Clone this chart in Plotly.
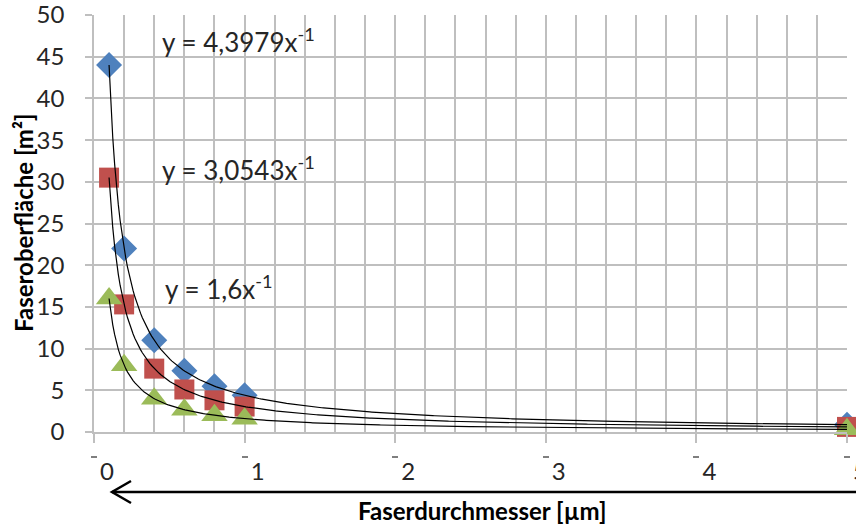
import numpy as np
import plotly.graph_objects as go

# Data
x_vals = [0.1, 0.2, 0.4, 0.6, 0.8, 1.0, 5.0]
blue_vals = [44.0, 22.0, 11.0, 7.33, 5.5, 4.4, 0.88]
red_vals = [30.5, 15.3, 7.6, 5.1, 3.8, 3.05, 0.61]
green_vals = [16.0, 8.0, 4.0, 2.67, 2.0, 1.6, 0.32]
x_ticks = [0, 1, 2, 3, 4, 5]
y_ticks = [0, 5, 10, 15, 20, 25, 30, 35, 40, 45, 50]
eq_labels = ["y = 4,3979x<sup>-1</sup>", "y = 3,0543x<sup>-1</sup>", "y = 1,6x<sup>-1</sup>"]

W, H = 856, 526
ML, MR, MT, MB = 94, 9, 15, 0
PW, PH = W - ML - MR, H - MT - MB
def px(xp):
    return (xp - ML) / PW
def py(yp):
    return (H - yp) / PH

FONT = "Lato"
fig = go.Figure()

series = [
    (blue_vals, "#4F81BD", "diamond", 20),
    (red_vals, "#C0504D", "square", 20),
    (green_vals, "#9BBB59", "triangle-up", 23),
]
for vals, col, sym, size in series:
    fig.add_trace(go.Scatter(x=x_vals, y=vals, mode="markers",
                             marker=dict(color=col, symbol=sym, size=size, line=dict(width=0)),
                             cliponaxis=False, showlegend=False))

# power trendlines fitted from the data (like Excel)
xs = np.array(x_vals)
xc = np.linspace(min(x_vals), max(x_vals), 400)
for vals, *_ in series:
    b, loga = np.polyfit(np.log(xs), np.log(np.array(vals)), 1)
    fig.add_trace(go.Scatter(x=xc, y=np.exp(loga) * xc ** b, mode="lines",
                             line=dict(color="black", width=1.2), showlegend=False,
                             hoverinfo="skip"))

# invisible trace for secondary x axis (tick dashes)
fig.add_trace(go.Scatter(x=[0, 5], y=[0, 0], xaxis="x2", mode="markers",
                         marker=dict(opacity=0), showlegend=False, hoverinfo="skip"))

grid = "#BFBFBF"
fig.update_layout(
    width=W, height=H,
    margin=dict(l=ML, r=MR, t=MT, b=MB),
    paper_bgcolor="white", plot_bgcolor="white",
    font=dict(family=FONT, color="#262626"),
    xaxis=dict(range=[0, 5], tickvals=x_ticks, ticks="outside", ticklen=9, tickcolor=grid,
               tickwidth=1.5, showgrid=True, gridcolor=grid, gridwidth=1.5,
               minor=dict(dtick=0.2, showgrid=True, gridcolor=grid, gridwidth=1.5),
               showline=True, linecolor=grid, linewidth=1.5,
               tickfont=dict(size=24, family=FONT, color="#262626"),
               ticklabelstandoff=8, ticklabelshift=13, ticklabeloverflow="allow",
               zeroline=False, automargin=False,
               anchor="y", fixedrange=True),
    xaxis2=dict(overlaying="x", anchor="free", position=py(455), side="bottom",
                range=[0, 5], tickvals=x_ticks, ticks="outside", ticklen=2, tickwidth=6,
                tickcolor="#7F7F7F", showticklabels=False, showgrid=False,
                showline=False, zeroline=False, automargin=False),
    yaxis=dict(domain=[py(432), 1], range=[0, 50], tickvals=y_ticks,
               ticks="outside", ticklen=7, tickcolor=grid, tickwidth=1.5,
               showgrid=True, gridcolor=grid, gridwidth=1.5,
               showline=True, linecolor=grid, linewidth=1.5, zeroline=False,
               tickfont=dict(size=24, family=FONT, color="#262626"),
               ticklabelstandoff=16, ticklabeloverflow="allow", automargin=False),
)

# y axis title
fig.add_annotation(x=px(23), y=py(223), xref="paper", yref="paper",
                   text="<b>Faseroberfläche [m²]</b>", showarrow=False, textangle=-90,
                   xanchor="center", yanchor="middle",
                   font=dict(size=24, family=FONT, color="black"))

eq_pos = [(0.44, 46.9), (0.44, 31.6), (0.46, 17.3)]
for (ex, ey), txt in zip(eq_pos, eq_labels):
    fig.add_annotation(x=ex, y=ey, xref="x", yref="y", text=txt, showarrow=False,
                       xanchor="left", yanchor="middle",
                       font=dict(size=26, family=FONT, color="#262626"))

fig.add_annotation(x=px(482), y=py(510), xref="paper", yref="paper",
                   text="<b>Faserdurchmesser [µm]</b>", showarrow=False,
                   xanchor="center", yanchor="middle",
                   font=dict(size=24, family=FONT, color="black"))

# arrow under the x axis
fig.add_shape(type="line", xref="paper", yref="paper", x0=px(112), x1=px(860),
              y0=py(492), y1=py(492), line=dict(color="black", width=2.5))
fig.add_shape(type="path", xref="paper", yref="paper",
              path=f"M {px(131)} {py(481)} L {px(112)} {py(492)} L {px(131)} {py(503)}",
              line=dict(color="black", width=2.5))

fig.write_html("out.html")
